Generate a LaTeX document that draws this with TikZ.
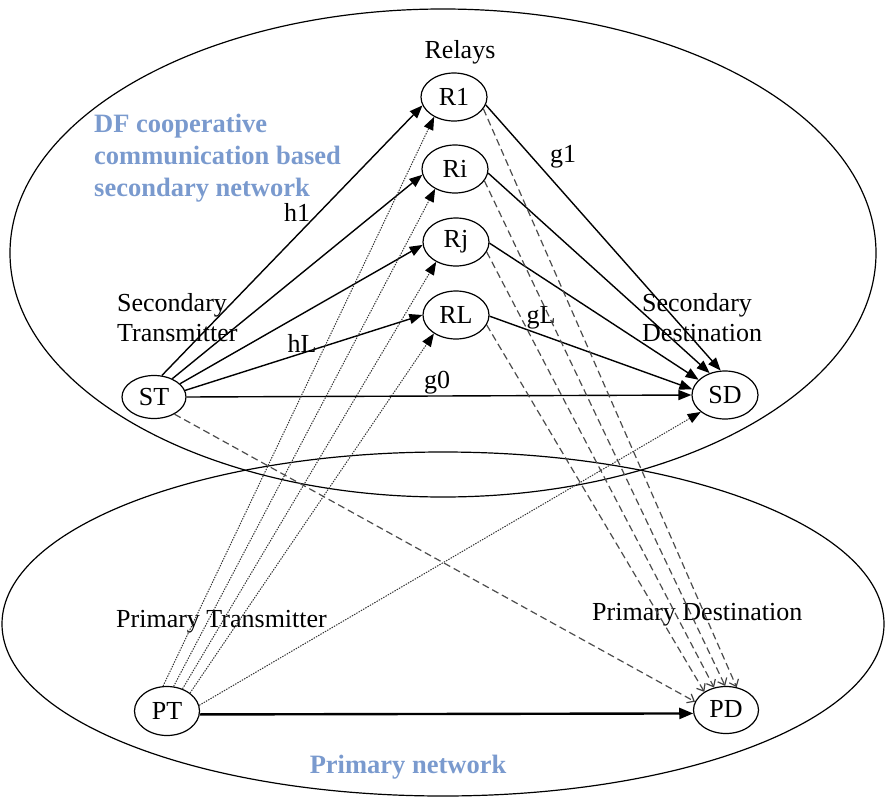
\documentclass[tikz,border=0pt]{standalone}
\usepackage{fontspec}
\setmainfont{Liberation Serif}
\usetikzlibrary{arrows.meta,shapes.geometric}
\definecolor{netblue}{RGB}{122,154,206}
\begin{document}
\begin{tikzpicture}[x=1pt,y=-1pt,
  font=\fontsize{26}{30}\selectfont,
  nd/.style={draw, ellipse, line width=1.2pt, minimum width=66pt, minimum height=48pt, inner sep=0pt},
  txt/.style={inner sep=0pt, align=left},
  blue/.style={inner sep=0pt, align=left, text=netblue, font=\fontsize{26.5}{32}\selectfont\bfseries},
  region/.style={line width=1.2pt},
  sol/.style={line width=1.4pt, -{Triangle[length=13pt,width=10pt]}},
  thick link/.style={line width=2.4pt, -{Triangle[length=14pt,width=11pt]}},
  dsh/.style={line width=1.2pt, draw=black!70, dash pattern=on 7pt off 4pt, -{Straight Barb[length=6pt,width=10pt,color=black!75]}},
  dotl/.style={line width=1pt, draw=black!80, dash pattern=on 1.4pt off 1.2pt, -{Triangle[length=13pt,width=10pt,color=black]}}
  ]
\useasboundingbox (0,0) rectangle (887,798);

% network regions
\draw[region] (443,253) ellipse [x radius=433pt, y radius=244pt];
\draw[region] (443,624) ellipse [x radius=441pt, y radius=172pt];

% nodes
\node[nd] (R1) at (454,97) {R1};
\node[nd] (Ri) at (455,169) {Ri};
\node[nd] (Rj) at (456,242) {Rj};
\node[nd] (RL) at (456,315) {RL};
\node[nd, minimum width=64pt, minimum height=43pt] (ST) at (154,397) {ST};
\node[nd] (SD) at (725,395) {\raisebox{-6pt}{SD}};
\node[nd, minimum width=65pt, minimum height=49pt] (PT) at (167,711) {\raisebox{-10pt}{PT}};
\node[nd, minimum width=65pt, minimum height=47pt] (PD) at (726,710) {\raisebox{3pt}{PD}};

% labels
\node[txt] (relays) at (460,52) {Relays};
\node[blue, anchor=west] (df) at (94,158) {DF cooperative\\communication based\\secondary network};
\node[txt] (h1) at (297,212) {h1};
\node[txt] (hL) at (302,343) {hL};
\node[txt] (g1) at (563,157) {g1};
\node[txt] (gL) at (541,318) {gL};
\node[txt] (g0) at (437,383) {g0};
\node[txt, anchor=west] (stlab) at (117,318) {Secondary\\Transmitter};
\node[txt, anchor=west] (sdlab) at (642,318) {Secondary\\Destination};
\node[txt, anchor=west] (ptlab) at (116,622) {Primary Transmitter};
\node[txt, anchor=west] (pdlab) at (592,615) {Primary Destination};
\node[blue] (pnet) at (408,767) {Primary network};

% ST -> relays
\draw[sol] (ST.70) -- (R1.195);
\draw[sol] (ST.45) -- (Ri.190);
\draw[sol] (ST.27) -- (Rj.185);
\draw[sol] (ST.12) -- (RL.180);
% relays -> SD
\draw[sol] (R1.-14) -- (SD.100);
\draw[sol] (Ri.-7) -- (SD.125);
\draw[sol] (Rj.-2) -- (SD.150);
\draw[sol] (RL.-2) -- (SD.170);
% direct link
\draw[sol] (ST.east) -- (SD.west);
% relays -> PD (interference)
\draw[dsh] (R1.-22) -- (PD.65);
\draw[dsh] (Ri.-22) -- (PD.92);
\draw[dsh] (Rj.-18) -- (PD.118);
\draw[dsh] (RL.-18) -- (PD.140);
\draw[dsh] (ST.-40) -- (PD.165);
% PT -> relays and SD
\draw[dotl] (PT.99) -- (R1.225);
\draw[dotl] (PT.75) -- (Ri.225);
\draw[dotl] (PT.55) -- (Rj.225);
\draw[dotl] (PT.38) -- (RL.220);
\draw[dotl] (PT.10) -- (SD.215);
% primary link
\draw[thick link] (PT.-6) -- (PD.186);
\end{tikzpicture}
\end{document}
